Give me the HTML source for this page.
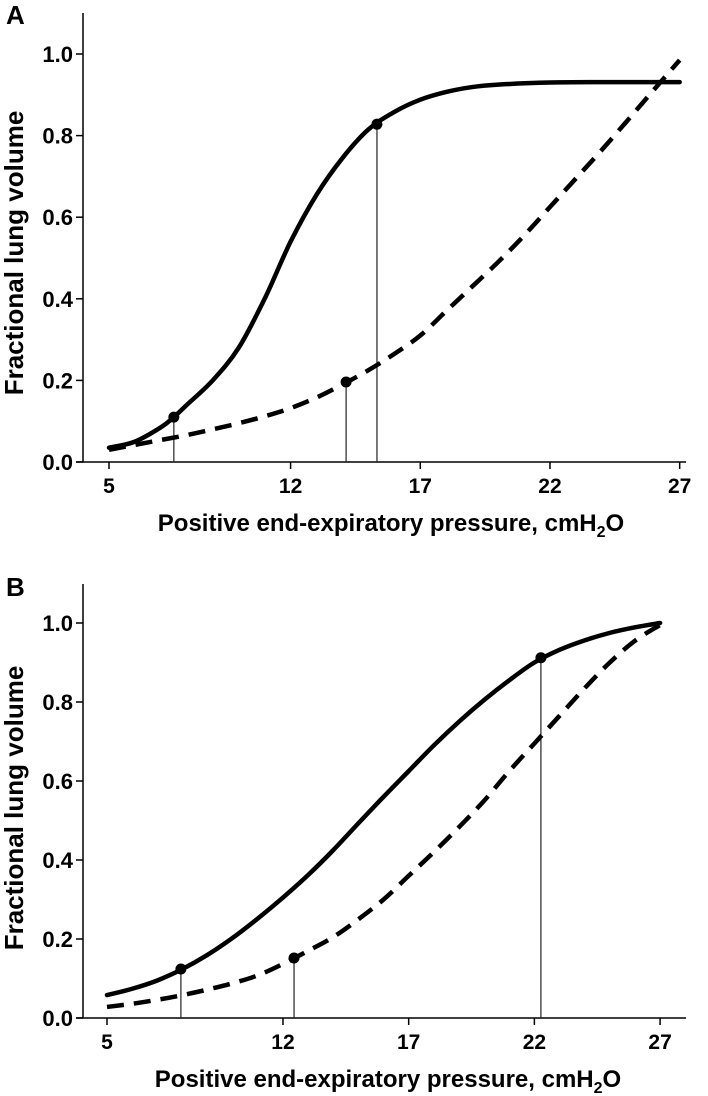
<!DOCTYPE html>
<html><head><meta charset="utf-8"><style>
html,body{margin:0;padding:0;background:#fff;}
svg{display:block;font-family:"Liberation Sans",Arial,sans-serif;font-weight:bold;}
</style></head><body>
<svg id="chart" width="708" height="1096" viewBox="0 0 708 1096"></svg>
<script>
const xTicks=[5,12,17,22,27];
const yTicks=[0.0,0.2,0.4,0.6,0.8,1.0];
const yTickLabels=["0.0","0.2","0.4","0.6","0.8","1.0"];
const aSolidX=[5,6,7,7.5,8,9,10,11,12,13,14,15,16,17,18,19,20,22,24,27];
const aSolidY=[0.035,0.05,0.085,0.11,0.14,0.2,0.28,0.4,0.54,0.655,0.745,0.815,0.858,0.888,0.907,0.919,0.925,0.93,0.931,0.931];
const aDashX=[5,6,7,8,9,10,11,12,13,14,15,16,17,18,19,20,21,22,23,24,25,26,27];
const aDashY=[0.03,0.042,0.054,0.066,0.08,0.095,0.112,0.132,0.158,0.19,0.225,0.265,0.31,0.37,0.43,0.49,0.555,0.625,0.695,0.765,0.838,0.912,0.985];
const aPointsX=[7.5,14.14,15.33];
const aPointsY=[0.11,0.196,0.828];
const bSolidX=[5,6,7,8,9,10,11,12,13,14,15,16,17,18,19,20,21,22,23,24,25,26,27];
const bSolidY=[0.058,0.074,0.095,0.124,0.16,0.203,0.252,0.305,0.362,0.425,0.493,0.56,0.625,0.69,0.75,0.805,0.855,0.9,0.932,0.956,0.975,0.989,1.0];
const bDashX=[5,6,7,8,9,10,11,12,13,14,15,16,17,18,19,20,21,22,23,24,25,26,27];
const bDashY=[0.028,0.036,0.046,0.058,0.072,0.088,0.108,0.137,0.17,0.205,0.25,0.3,0.36,0.42,0.483,0.55,0.625,0.695,0.765,0.835,0.9,0.955,0.995];
const bPointsX=[7.94,12.44,22.26];
const bPointsY=[0.124,0.152,0.912];

const NS="http://www.w3.org/2000/svg";
const svg=document.getElementById('chart');
function mk(tag,attrs,parent){const e=document.createElementNS(NS,tag);for(const k in attrs)e.setAttribute(k,attrs[k]);(parent||svg).appendChild(e);return e;}
function smooth(pts){let d="M"+pts[0][0]+","+pts[0][1];for(let i=0;i<pts.length-1;i++){const p0=pts[i-1]||pts[i],p1=pts[i],p2=pts[i+1],p3=pts[i+2]||p2;const c1x=p1[0]+(p2[0]-p0[0])/6,c1y=p1[1]+(p2[1]-p0[1])/6,c2x=p2[0]-(p3[0]-p1[0])/6,c2y=p2[1]-(p3[1]-p1[1])/6;d+=" C"+c1x+","+c1y+" "+c2x+","+c2y+" "+p2[0]+","+p2[1];}return d;}

function panel(cfg){
  const g=mk('g',{});
  
  
  const X=v=>cfg.x0+(v-5)*cfg.xs;
  const Y=v=>cfg.y0-v*cfg.ys;
  const lab=mk('text',{x:6,y:cfg.labY,'font-size':26},g);lab.textContent=cfg.letter;
  
  
  const ya=mk('line',{x1:cfg.ax,y1:cfg.top,x2:cfg.ax,y2:cfg.y0,stroke:'#000','stroke-width':1.5},g);
  
  
  const xa=mk('line',{x1:cfg.ax-7,y1:cfg.y0,x2:686,y2:cfg.y0,stroke:'#000','stroke-width':1.5},g);
  
  
  yTicks.forEach((v,i)=>{
    mk('line',{x1:cfg.ax-7,y1:Y(v),x2:cfg.ax,y2:Y(v),stroke:'#000','stroke-width':1.5},g);
    const t=mk('text',{x:cfg.ax-10,y:Y(v)+8,'font-size':22,'text-anchor':'end'},g);t.textContent=yTickLabels[i];
    
    
  });
  xTicks.forEach(v=>{
    mk('line',{x1:X(v),y1:cfg.y0,x2:X(v),y2:cfg.y0+7,stroke:'#000','stroke-width':1.5},g);
    const t=mk('text',{x:X(v),y:cfg.y0+31,'font-size':21,'text-anchor':'middle'},g);t.textContent=String(v);
    
    
  });
  const xt=mk('text',{x:cfg.xtX,y:cfg.y0+69,'font-size':24,'text-anchor':'middle'},g);
  xt.innerHTML='Positive end-expiratory pressure, cmH<tspan font-size="16" dy="6">2</tspan><tspan dy="-6">O</tspan>';
  
  
  const yt=mk('text',{x:0,y:0,'font-size':26,'text-anchor':'middle',transform:'translate(23,'+cfg.ytY+') rotate(-90)'},g);
  yt.textContent='Fractional lung volume';
  
  
  cfg.px.forEach((v,i)=>{
    const l=mk('line',{x1:X(v),y1:Y(cfg.py[i]),x2:X(v),y2:cfg.y0,stroke:'#222','stroke-width':1.2},g);
    
    
  });
  const s=mk('path',{d:smooth(cfg.sx.map((v,i)=>[X(v),Y(cfg.sy[i])])),fill:'none',stroke:'#000','stroke-width':4.5,'stroke-linecap':'round'},g);
  
  
  const d=mk('path',{d:smooth(cfg.dx.map((v,i)=>[X(v),Y(cfg.dy[i])])),fill:'none',stroke:'#000','stroke-width':4.5,'stroke-dasharray':'17 10','stroke-linecap':'butt'},g);
  
  
  cfg.px.forEach((v,i)=>{
    const c=mk('circle',{cx:X(v),cy:Y(cfg.py[i]),r:5.5,fill:'#000'},g);
    
    
  });
}
panel({name:'panel-a',letter:'A',labY:24,ax:83,top:13,x0:109,xs:25.94,y0:462,ys:408,ytY:253,xtX:391,
  sx:aSolidX,sy:aSolidY,dx:aDashX,dy:aDashY,px:aPointsX,py:aPointsY});
panel({name:'panel-b',letter:'B',labY:596,ax:83,top:584,x0:107,xs:25.14,y0:1018,ys:395,ytY:808,xtX:388,
  sx:bSolidX,sy:bSolidY,dx:bDashX,dy:bDashY,px:bPointsX,py:bPointsY});
</script>
</body></html>
